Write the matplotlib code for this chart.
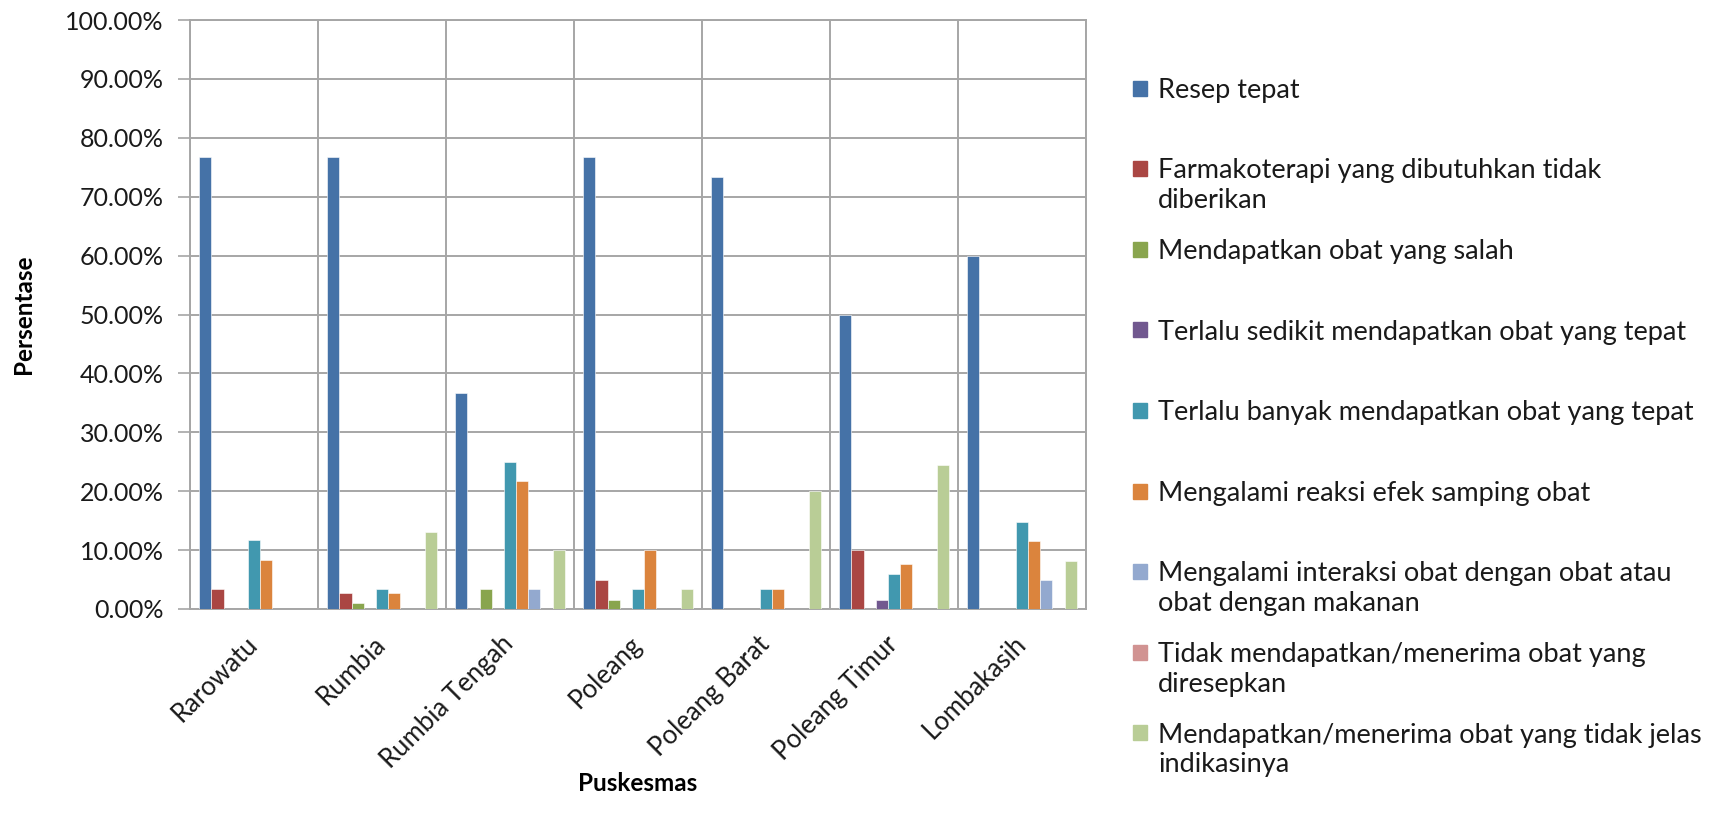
import numpy as np
import matplotlib
matplotlib.use('Agg')
import matplotlib.pyplot as plt
from matplotlib.patches import Rectangle
from matplotlib.ticker import FuncFormatter
from matplotlib.transforms import ScaledTranslation

plt.rcParams['font.family'] = ['Lato', 'DejaVu Sans']

puskesmas = ['Rarowatu', 'Rumbia', 'Rumbia Tengah', 'Poleang',
             'Poleang Barat', 'Poleang Timur', 'Lombakasih']

kategori = [
    'Resep tepat',
    'Farmakoterapi yang dibutuhkan tidak\ndiberikan',
    'Mendapatkan obat yang salah',
    'Terlalu sedikit mendapatkan obat yang tepat',
    'Terlalu banyak mendapatkan obat yang tepat',
    'Mengalami reaksi efek samping obat',
    'Mengalami interaksi obat dengan obat atau\nobat dengan makanan',
    'Tidak mendapatkan/menerima obat yang\ndiresepkan',
    'Mendapatkan/menerima obat yang tidak jelas\nindikasinya',
]

warna = ['#4572A7', '#AA4643', '#89A54E', '#71588F', '#4198AF',
         '#DB843D', '#93A9CF', '#D19392', '#B9CD96']

# persentase per puskesmas (urutan sama dengan daftar puskesmas)
resep_tepat      = [76.67, 76.67, 36.67, 76.67, 73.33, 50.00, 60.00]
farmakoterapi    = [3.33, 2.70, 0.00, 5.00, 0.00, 10.00, 0.00]
obat_salah       = [0.00, 1.00, 3.33, 1.60, 0.00, 0.00, 0.00]
terlalu_sedikit  = [0.00, 0.00, 0.00, 0.00, 0.00, 1.60, 0.00]
terlalu_banyak   = [11.67, 3.33, 25.00, 3.33, 3.33, 6.00, 14.80]
efek_samping     = [8.33, 2.70, 21.67, 10.00, 3.33, 7.70, 11.60]
interaksi        = [0.00, 0.00, 3.33, 0.00, 0.00, 0.00, 4.90]
tidak_diterima   = [0.00, 0.00, 0.00, 0.00, 0.00, 0.00, 0.00]
tidak_jelas      = [0.00, 13.10, 10.00, 3.33, 20.00, 24.40, 8.10]

series = [resep_tepat, farmakoterapi, obat_salah, terlalu_sedikit,
          terlalu_banyak, efek_samping, interaksi, tidak_diterima,
          tidak_jelas]

W, H = 1720, 826
fig = plt.figure(figsize=(W / 100, H / 100), dpi=100)
ax = fig.add_axes([190 / W, 1 - 609 / H, 896 / W, 589 / H])

grid_color = '#a6a6a6'
lebar = 0.095
awal = 0.0725
x = np.arange(len(puskesmas))
for j, (vals, c) in enumerate(zip(series, warna)):
    ax.bar(x + awal + j * lebar, vals, width=lebar, align='edge',
           color=c, edgecolor='white', linewidth=0.4, zorder=3)

ax.set_xlim(0, len(puskesmas))
ax.set_ylim(0, 100)
ax.set_yticks(np.arange(0, 101, 10))
ax.yaxis.set_major_formatter(FuncFormatter(lambda v, p: f'{v:.2f}%'))
ax.set_xticks(x + 0.5)
ax.set_xticklabels(puskesmas, rotation=45, ha='right', va='top',
                   rotation_mode='anchor', fontsize=18.5, color='#1a1a1a')
ax.tick_params(axis='x', length=0, pad=16)
ax.tick_params(axis='y', length=8.6, width=1.2, color=grid_color,
               labelsize=18, pad=10.5, labelcolor='#1a1a1a')
# geser label kategori sedikit ke kiri
geser = ScaledTranslation(-9 / 100, 0, fig.dpi_scale_trans)
for lbl in ax.get_xticklabels():
    lbl.set_transform(lbl.get_transform() + geser)

for xv in range(len(puskesmas) + 1):
    ax.axvline(xv, color=grid_color, linewidth=1.4, zorder=1)
ax.grid(axis='y', color=grid_color, linewidth=1.4, zorder=1)
for s in ax.spines.values():
    s.set_color(grid_color)
    s.set_linewidth(1.4)
ax.set_axisbelow(True)

ax.set_ylabel('Persentase', fontsize=17.5, fontweight='bold')
ax.set_xlabel('Puskesmas', fontsize=17.5, fontweight='bold')
ax.yaxis.set_label_coords((35 - 190) / 896, 0.5)
ax.xaxis.set_label_coords(0.5, -(772 - 609) / 589)

# legenda di sisi kanan, kotak sejajar baris pertama teks
fs_leg = 19.5
slot0 = 88
step = 80.6
baris = 29.6
for j, (nama, c) in enumerate(zip(kategori, warna)):
    yc = slot0 + j * step
    fig.patches.append(Rectangle((1133 / W, 1 - (yc + 7.5) / H),
                                 14 / W, 15 / H, color=c,
                                 transform=fig.transFigure, figure=fig))
    base = yc + 0.36 * fs_leg * 100 / 72
    for k, teks in enumerate(nama.split('\n')):
        fig.text(1158 / W, 1 - (base + k * baris) / H, teks,
                 fontsize=fs_leg, va='baseline', ha='left',
                 color='#1a1a1a')

fig.savefig('out.png', dpi=100)
